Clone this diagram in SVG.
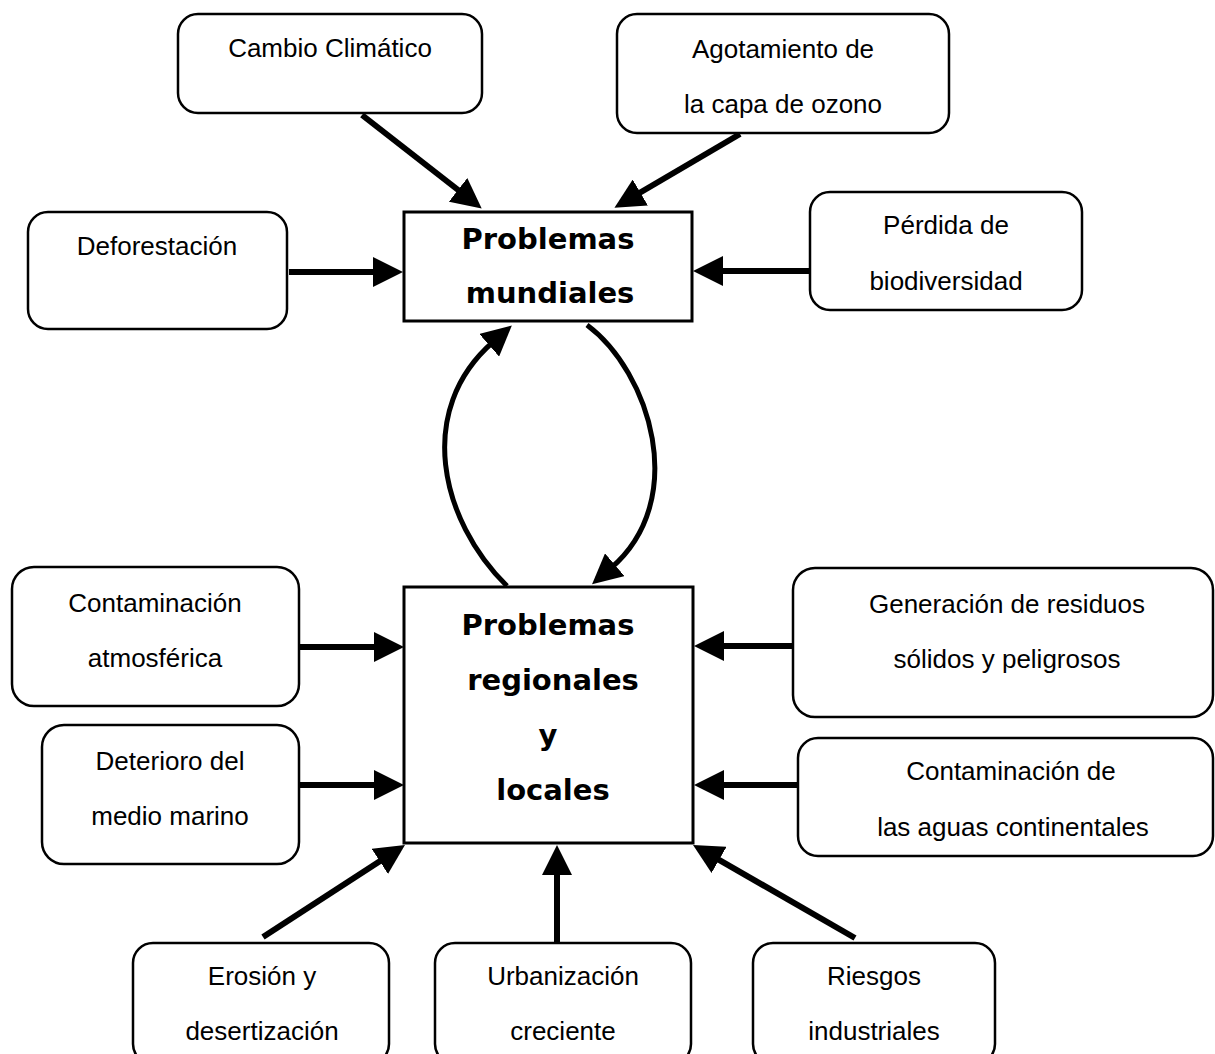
<svg xmlns="http://www.w3.org/2000/svg" width="1215" height="1054" viewBox="0 0 1215 1054">
<style>
.box{fill:#fff;stroke:#000;stroke-width:2.5}
.main{fill:#fff;stroke:#000;stroke-width:3}
.t{font-family:"Liberation Sans",Arial,sans-serif;font-size:26px;fill:#000;text-anchor:middle}
.b{font-family:"DejaVu Sans",Verdana,sans-serif;font-size:29px;font-weight:bold;fill:#000;text-anchor:middle}
.c{fill:none;stroke:#000;stroke-width:6;marker-end:url(#ah)}
.cv{fill:none;stroke:#000;stroke-width:5;marker-end:url(#ah)}
</style>
<defs>
<marker id="ah" markerUnits="userSpaceOnUse" viewBox="0 0 30 30" markerWidth="30" markerHeight="30" refX="5" refY="15" orient="auto">
<path d="M0,0 L30,15 L0,30 z" fill="#000"/>
</marker>
</defs>
<rect width="1215" height="1054" fill="#fff"/>

<g id="connectors">
<line class="c" x1="362" y1="115" x2="462" y2="193"/>
<line class="c" x1="740" y1="134" x2="636" y2="195"/>
<line class="c" x1="289" y1="272" x2="378" y2="272"/>
<line class="c" x1="810" y1="271" x2="718" y2="271"/>
<line class="c" x1="300" y1="647" x2="379" y2="647"/>
<line class="c" x1="300" y1="785" x2="379" y2="785"/>
<line class="c" x1="793" y1="646" x2="719" y2="646"/>
<line class="c" x1="798" y1="785" x2="719" y2="785"/>
<line class="c" x1="263" y1="937" x2="384" y2="858.6"/>
<line class="c" x1="557" y1="943" x2="557" y2="870"/>
<line class="c" x1="855" y1="938" x2="714.7" y2="857.4"/>
<path class="cv" d="M507,586 C440,520 415,410 493,342"/>
<path class="cv" d="M587,325 C650,372 690,500 611,568"/>
</g>

<g id="n-cambio">
<rect class="box" x="178" y="14" width="304" height="99" rx="20"/>
<text class="t" x="330" y="57">Cambio Climático</text>
</g>
<g id="n-agotamiento">
<rect class="box" x="617" y="14" width="332" height="119" rx="20"/>
<text class="t" x="783" y="58">Agotamiento de</text>
<text class="t" x="783" y="113">la capa de ozono</text>
</g>
<g id="n-deforestacion">
<rect class="box" x="28" y="212" width="259" height="117" rx="20"/>
<text class="t" x="157" y="255">Deforestación</text>
</g>
<g id="n-perdida">
<rect class="box" x="810" y="192" width="272" height="118" rx="20"/>
<text class="t" x="946" y="234">Pérdida de</text>
<text class="t" x="946" y="290">biodiversidad</text>
</g>
<g id="n-mundiales">
<rect class="main" x="404" y="212" width="288" height="109"/>
<text class="b" x="548" y="249">Problemas</text>
<text class="b" x="550" y="303">mundiales</text>
</g>
<g id="n-regionales">
<rect class="main" x="404" y="587" width="289" height="256"/>
<text class="b" x="548" y="635">Problemas</text>
<text class="b" x="553" y="690">regionales</text>
<text class="b" x="548" y="745">y</text>
<text class="b" x="553" y="800">locales</text>
</g>
<g id="n-atmosferica">
<rect class="box" x="12" y="567" width="287" height="139" rx="22"/>
<text class="t" x="155" y="612">Contaminación</text>
<text class="t" x="155" y="667">atmosférica</text>
</g>
<g id="n-marino">
<rect class="box" x="42" y="725" width="257" height="139" rx="22"/>
<text class="t" x="170" y="770">Deterioro del</text>
<text class="t" x="170" y="825">medio marino</text>
</g>
<g id="n-residuos">
<rect class="box" x="793" y="568" width="420" height="149" rx="22"/>
<text class="t" x="1007" y="613">Generación de residuos</text>
<text class="t" x="1007" y="668">sólidos y peligrosos</text>
</g>
<g id="n-aguas">
<rect class="box" x="798" y="738" width="415" height="118" rx="20"/>
<text class="t" x="1011" y="780">Contaminación de</text>
<text class="t" x="1013" y="836">las aguas continentales</text>
</g>
<g id="n-erosion">
<rect class="box" x="133" y="943" width="256" height="121" rx="20"/>
<text class="t" x="262" y="985">Erosión y</text>
<text class="t" x="262" y="1040">desertización</text>
</g>
<g id="n-urbanizacion">
<rect class="box" x="435" y="943" width="256" height="121" rx="20"/>
<text class="t" x="563" y="985">Urbanización</text>
<text class="t" x="563" y="1040">creciente</text>
</g>
<g id="n-riesgos">
<rect class="box" x="753" y="943" width="242" height="121" rx="20"/>
<text class="t" x="874" y="985">Riesgos</text>
<text class="t" x="874" y="1040">industriales</text>
</g>
</svg>
